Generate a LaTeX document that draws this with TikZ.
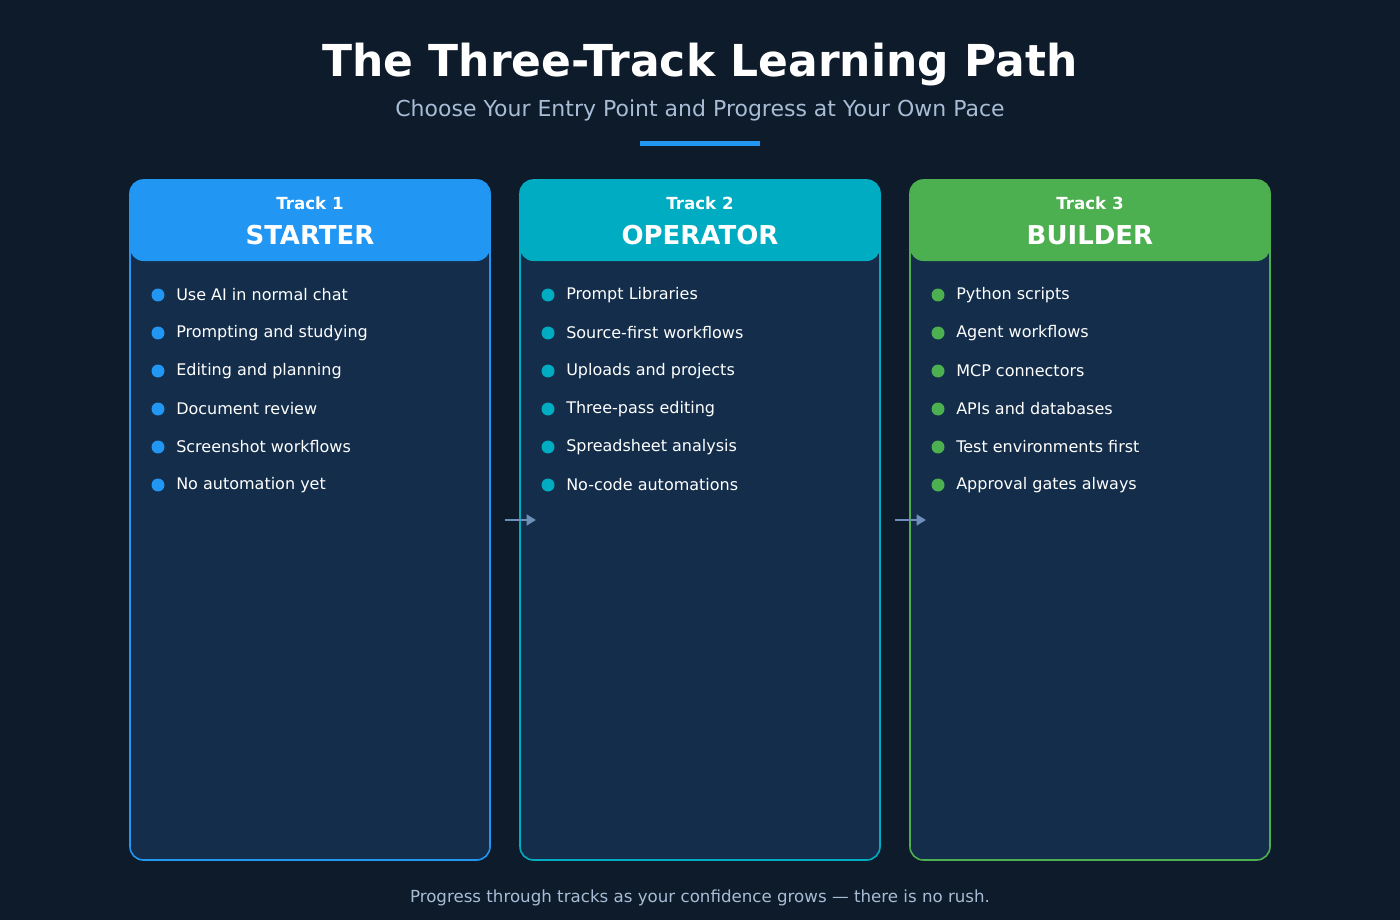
\documentclass[tikz,border=0pt]{standalone}
\usepackage{fontspec}
\setmainfont{DejaVu Sans}
\usetikzlibrary{arrows.meta}
\definecolor{bg}{HTML}{0D1B2A}
\definecolor{card}{HTML}{132D4A}
\definecolor{blueT}{HTML}{2196F3}
\definecolor{tealT}{HTML}{00ACC1}
\definecolor{greenT}{HTML}{4CAF50}
\definecolor{soft}{HTML}{A9BCD6}
\definecolor{arrowc}{HTML}{6F8FB8}
\tikzset{
  cardbox/.style={draw=#1, line width=1.2pt, fill=card, rounded corners=10pt},
  headbox/.style={fill=#1, rounded corners=10pt},
  item/.style={anchor=west, text=white, font=\fontsize{12}{14}\selectfont, inner sep=0pt},
  link/.style={draw=arrowc, line width=1.8pt, -{Triangle[length=7pt,width=8pt]}}
}
\begin{document}
\begin{tikzpicture}[x=0.75pt, y=-0.75pt]

	\fill[bg] (0,0) rectangle (1400,920);

	\node[text=white, font=\bfseries\fontsize{33}{38}\selectfont] (title) at (700,65) {The Three-Track Learning Path};
	\node[text=soft, font=\fontsize{16.5}{20}\selectfont] (subtitle) at (700,110) {Choose Your Entry Point and Progress at Your Own Pace};
	\fill[blueT] (640,141) rectangle (760,146);

	% three cards
	\foreach \x/\col/\num/\name [count=\i] in {130/blueT/1/STARTER, 520/tealT/2/OPERATOR, 910/greenT/3/BUILDER} {
		\draw[cardbox=\col] (\x,180) rectangle ++(360,680);
		\fill[headbox=\col] (\x,180) rectangle ++(360,81);
		\node[text=white, font=\bfseries\fontsize{12.5}{15}\selectfont] (label\i) at (\x+180,203) {Track \num};
		\node[text=white, font=\bfseries\fontsize{19.5}{23}\selectfont] (name\i) at (\x+180,235) {\name};
	}

	\foreach \t [count=\j] in {Use AI in normal chat, Prompting and studying, Editing and planning, Document review, Screenshot workflows, No automation yet} {
		\fill[blueT] (158,257+38*\j) circle (6.5);
		\node[item] (a\j) at (176,257+38*\j) {\t};
	}
	\foreach \t [count=\j] in {Prompt Libraries, Source-first workflows, Uploads and projects, Three-pass editing, Spreadsheet analysis, No-code automations} {
		\fill[tealT] (548,257+38*\j) circle (6.5);
		\node[item] (b\j) at (566,257+38*\j) {\t};
	}
	\foreach \t [count=\j] in {Python scripts, Agent workflows, MCP connectors, APIs and databases, Test environments first, Approval gates always} {
		\fill[greenT] (938,257+38*\j) circle (6.5);
		\node[item] (c\j) at (956,257+38*\j) {\t};
	}

	\coordinate (s1) at (505,520);
	\coordinate (e1) at (536,520);
	\coordinate (s2) at (895,520);
	\coordinate (e2) at (926,520);
	\draw[link] (s1) -- (e1);
	\draw[link] (s2) -- (e2);

	\node[text=soft, font=\fontsize{12.5}{15}\selectfont] (footer) at (700,898) {Progress through tracks as your confidence grows — there is no rush.};
\end{tikzpicture}
\end{document}
